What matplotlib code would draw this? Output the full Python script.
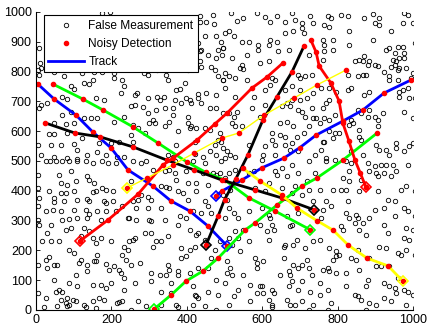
import matplotlib
matplotlib.use('Agg')
import matplotlib.pyplot as plt
from matplotlib.lines import Line2D

plt.rcParams['font.family'] = ['Liberation Sans', 'DejaVu Sans']

false_pts = [
    (176, 996), (197, 1000), (8, 879), (11, 828), (4, 806), (14, 812), (8, 789), (48, 800), (75, 784),
    (123, 795), (154, 800), (152, 772), (176, 800), (207, 778), (229, 772), (207, 795), (128, 761),
    (141, 758), (92, 750), (234, 753), (225, 728), (70, 716), (83, 709), (101, 742), (13, 688), (30, 694),
    (8, 677), (159, 711), (181, 705), (145, 644), (163, 644), (70, 655), (92, 666), (207, 632), (234, 649),
    (48, 627), (79, 624), (101, 627), (128, 644), (35, 590), (48, 590), (83, 593), (123, 577), (167, 560),
    (198, 560), (220, 565), (4, 554), (39, 554), (101, 556), (110, 537), (136, 521), (163, 530), (216, 515),
    (234, 512), (14, 521), (48, 515), (83, 509), (110, 507), (66, 554), (185, 521),
    (434, 985), (469, 991), (434, 968), (452, 968), (472, 959), (447, 918), (478, 918), (492, 901),
    (430, 896), (437, 873), (434, 868), (456, 856), (478, 845), (483, 873), (496, 879), (494, 856),
    (434, 836), (465, 817), (474, 806), (437, 817), (286, 795), (297, 789), (322, 806), (346, 789),
    (350, 772), (403, 806), (483, 784), (496, 772), (394, 761), (372, 739), (381, 742), (262, 722),
    (269, 728), (297, 711), (322, 716), (339, 716), (328, 705), (368, 705), (399, 711), (408, 705),
    (430, 724), (452, 728), (478, 722), (431, 713), (262, 688), (253, 686), (284, 680), (319, 672),
    (341, 677), (363, 677), (385, 694), (412, 694), (438, 694), (461, 677), (478, 677), (297, 660),
    (363, 655), (403, 649), (310, 638), (301, 627), (315, 627), (354, 632), (403, 627), (412, 616),
    (425, 610), (408, 610), (257, 621), (271, 612), (341, 619), (447, 610), (251, 588), (288, 593),
    (377, 599), (461, 605), (487, 593), (483, 571), (372, 554), (421, 565), (474, 554), (492, 565),
    (350, 521), (363, 515), (421, 523), (443, 515), (461, 534), (478, 521), (257, 565),
    (518, 996), (533, 970), (550, 979), (586, 996), (608, 982), (621, 968), (639, 985), (661, 968),
    (679, 996), (687, 974), (705, 963), (727, 988), (736, 963), (502, 929), (512, 937), (524, 918),
    (546, 901), (564, 898), (590, 890), (621, 907), (639, 901), (661, 929), (683, 935), (705, 946),
    (710, 929), (617, 890), (588, 873), (497, 879), (643, 868), (670, 873), (723, 856), (520, 847),
    (559, 856), (617, 836), (546, 823), (542, 812), (550, 809), (595, 828), (502, 795), (511, 784),
    (528, 778), (559, 772), (626, 778), (634, 772), (696, 789), (701, 778), (714, 784), (732, 789),
    (497, 772), (621, 756), (679, 750), (661, 739), (502, 744), (528, 716), (577, 716), (608, 739),
    (701, 739), (718, 711), (736, 728), (701, 705), (679, 705), (665, 694), (652, 683), (674, 683),
    (533, 666), (573, 677), (608, 688), (696, 672), (705, 666), (732, 677), (497, 660), (511, 660),
    (524, 649), (520, 627), (528, 616), (546, 616), (595, 649), (648, 627), (665, 632), (683, 616),
    (714, 649), (736, 644), (723, 616), (626, 593), (648, 588), (661, 582), (692, 582), (710, 593),
    (497, 543), (506, 532), (564, 554), (608, 549), (626, 571), (634, 554), (661, 554), (679, 560),
    (674, 537), (696, 532), (515, 521), (528, 515), (603, 521), (634, 521), (740, 521), (502, 509),
    (774, 988), (783, 979), (809, 991), (827, 988), (871, 979), (893, 993), (898, 963), (911, 979),
    (977, 996), (986, 991), (973, 963), (999, 963), (765, 957), (778, 948), (831, 935), (911, 957),
    (942, 935), (761, 907), (787, 907), (831, 890), (893, 907), (1004, 896), (765, 890), (787, 873),
    (765, 868), (929, 873), (937, 879), (960, 884), (973, 884), (951, 862), (977, 862), (761, 840),
    (858, 840), (845, 836), (867, 834), (871, 851), (884, 834), (946, 840), (955, 834), (964, 845),
    (977, 845), (951, 823), (964, 812), (960, 806), (942, 817), (982, 812), (898, 823), (907, 820),
    (880, 823), (924, 800), (827, 789), (853, 784), (867, 789), (876, 789), (937, 784), (999, 795),
    (995, 778), (937, 772), (960, 772), (756, 744), (778, 744), (796, 733), (827, 739), (836, 744),
    (884, 733), (871, 722), (964, 733), (973, 739), (986, 744), (964, 716), (990, 711), (1004, 713),
    (778, 705), (770, 694), (761, 677), (792, 655), (765, 644), (778, 638), (853, 672), (862, 660),
    (884, 672), (920, 660), (977, 666), (999, 644), (743, 644), (752, 627), (880, 649), (898, 649),
    (907, 638), (907, 616), (858, 605), (836, 638), (831, 621), (840, 627), (778, 599), (792, 593),
    (805, 593), (787, 577), (761, 565), (765, 565), (858, 582), (862, 571), (902, 554), (911, 537),
    (929, 537), (955, 560), (955, 543), (977, 532), (990, 549), (999, 560), (756, 537), (770, 509),
    (867, 521), (937, 521), (836, 532),
    (26, 501), (37, 501), (52, 499), (70, 499), (88, 499), (110, 499), (132, 501), (150, 493), (176, 499),
    (190, 493), (212, 493), (4, 454), (61, 454), (92, 465), (66, 426), (83, 420), (105, 432), (136, 448),
    (141, 437), (154, 426), (176, 409), (185, 404), (203, 398), (4, 409), (35, 400), (66, 393), (79, 393),
    (101, 398), (150, 395), (159, 398), (8, 376), (48, 376), (48, 362), (75, 365), (110, 370), (136, 373),
    (141, 365), (181, 365), (185, 359), (203, 365), (4, 348), (26, 331), (44, 337), (66, 331), (101, 337),
    (132, 337), (141, 322), (163, 331), (185, 331), (212, 331), (229, 348), (243, 309), (70, 303),
    (88, 306), (110, 309), (136, 309), (172, 303), (4, 303), (8, 286), (39, 286), (79, 269), (92, 275),
    (128, 275), (141, 264), (119, 247), (150, 241), (172, 241), (30, 258), (17, 230), (39, 230), (61, 230),
    (88, 202), (101, 191), (159, 225), (163, 185), (198, 230), (234, 213), (243, 202), (229, 185),
    (4, 152), (26, 169), (35, 177), (48, 152), (57, 152), (30, 141), (119, 169), (154, 163), (159, 163),
    (185, 154), (136, 152), (114, 157), (238, 169), (207, 146), (136, 130), (194, 135), (220, 135),
    (225, 124), (234, 107), (48, 102), (105, 118), (88, 90), (110, 79), (150, 85), (172, 85), (185, 74),
    (198, 90), (234, 68), (61, 68), (52, 62), (70, 62), (4, 57), (26, 40), (66, 34), (83, 40), (97, 34),
    (79, 23), (88, 18), (105, 29), (128, 18), (150, 29), (167, 40), (181, 34), (216, 23), (220, 27),
    (22, 9), (57, 12), (83, 12), (132, 9), (159, 7), (229, 29),
    (257, 499), (279, 493), (293, 499), (368, 501), (416, 499), (447, 493), (492, 501), (310, 471),
    (341, 465), (354, 471), (368, 460), (399, 465), (443, 460), (469, 460), (478, 454), (487, 460),
    (253, 432), (372, 437), (403, 426), (425, 426), (456, 420), (332, 415), (346, 412), (354, 409),
    (279, 387), (297, 378), (271, 370), (257, 365), (306, 370), (377, 398), (390, 392), (403, 370),
    (425, 398), (447, 365), (297, 342), (266, 342), (332, 342), (456, 348), (438, 325), (381, 314),
    (399, 309), (416, 331), (465, 325), (266, 303), (301, 303), (306, 297), (341, 303), (248, 309),
    (377, 286), (408, 269), (425, 253), (430, 258), (288, 258), (306, 258), (319, 230), (332, 230),
    (350, 247), (310, 213), (257, 236), (248, 230), (262, 241), (385, 208), (408, 202), (399, 180),
    (385, 174), (421, 213), (447, 236), (474, 202), (487, 230), (465, 174), (275, 157), (253, 152),
    (350, 152), (354, 135), (377, 130), (377, 118), (306, 124), (328, 118), (346, 118), (408, 124),
    (430, 141), (456, 141), (262, 90), (306, 96), (359, 90), (416, 79), (478, 102), (332, 62), (359, 57),
    (421, 51), (425, 46), (430, 40), (456, 62), (483, 51), (271, 29), (293, 12), (332, 18), (372, 18),
    (377, 9), (416, 18), (447, 12), (478, 1), (253, 1),
    (528, 471), (511, 460), (502, 443), (497, 387), (515, 404), (506, 370), (599, 504), (634, 465),
    (652, 476), (639, 454), (665, 448), (679, 488), (696, 460), (723, 499), (718, 432), (740, 460),
    (564, 460), (577, 465), (581, 409), (608, 398), (617, 426), (652, 409), (687, 415), (679, 392),
    (705, 387), (723, 404), (736, 365), (511, 342), (524, 325), (502, 309), (537, 309), (564, 331),
    (599, 342), (617, 320), (621, 309), (665, 314), (696, 325), (679, 286), (674, 281), (626, 286),
    (630, 269), (612, 264), (595, 286), (528, 264), (550, 269), (511, 241), (537, 241), (520, 219),
    (564, 230), (617, 236), (657, 213), (661, 219), (683, 219), (714, 208), (736, 230), (692, 236),
    (542, 197), (581, 174), (586, 157), (586, 141), (603, 163), (657, 174), (683, 152), (705, 152),
    (718, 169), (723, 141), (696, 141), (670, 130), (674, 118), (648, 118), (506, 163), (515, 141),
    (506, 124), (520, 118), (550, 118), (732, 118), (705, 96), (679, 96), (502, 90), (568, 85), (595, 79),
    (599, 79), (626, 68), (630, 57), (586, 57), (603, 57), (670, 79), (696, 68), (727, 62), (524, 46),
    (537, 68), (511, 18), (568, 29), (617, 34), (626, 18), (626, 9), (665, 34), (674, 18), (687, 18),
    (705, 29), (723, 1), (736, 18),
    (770, 501), (792, 504), (823, 499), (836, 493), (880, 493), (898, 482), (915, 488), (929, 488),
    (946, 488), (955, 467), (986, 488), (884, 465), (902, 460), (907, 448), (924, 460), (942, 448),
    (831, 465), (814, 443), (831, 432), (862, 437), (823, 404), (809, 404), (752, 404), (787, 404),
    (858, 398), (907, 398), (968, 404), (982, 415), (1004, 398), (933, 370), (951, 365), (827, 365),
    (770, 365), (783, 348), (977, 342), (986, 331), (898, 337), (924, 342), (823, 325), (849, 320),
    (831, 309), (853, 309), (884, 309), (761, 337), (756, 309), (951, 314), (1004, 314), (982, 275),
    (999, 269), (845, 292), (809, 281), (814, 269), (858, 269), (876, 253), (924, 286), (867, 292),
    (933, 258), (977, 241), (990, 236), (752, 236), (778, 208), (796, 197), (805, 185), (796, 180),
    (787, 169), (853, 202), (911, 213), (929, 208), (960, 191), (968, 185), (982, 202), (1004, 185),
    (836, 174), (849, 169), (884, 174), (902, 146), (915, 146), (937, 146), (761, 135), (774, 141),
    (778, 130), (796, 124), (823, 124), (858, 135), (880, 102), (960, 107), (924, 90), (937, 79),
    (951, 74), (876, 79), (752, 90), (774, 68), (752, 51), (823, 79), (845, 51), (853, 46), (862, 34),
    (884, 23), (902, 18), (924, 40), (942, 29), (977, 68), (986, 62), (999, 51), (783, 23), (774, 1),
    (876, 1), (982, 18), (955, 57),
]

# tracks, each listed from the end that carries the diamond marker
blue_1 = [(507, 215), (456, 282), (408, 332), (358, 366), (310, 416), (244, 470), (199, 544),
          (151, 597), (106, 654), (48, 708), (5, 758)]
blue_2 = [(477, 383), (493, 399), (546, 436), (599, 477), (658, 510), (700, 545), (743, 587),
          (814, 634), (867, 671), (923, 728), (995, 772)]
green_1 = [(728, 269), (634, 332), (565, 376), (501, 436), (450, 462), (400, 497), (324, 560),
           (258, 614), (178, 671), (124, 708), (45, 758)]
green_2 = [(313, 3), (358, 50), (398, 97), (443, 131), (483, 174), (554, 268), (581, 292),
           (639, 352), (706, 416), (745, 443), (814, 503), (905, 594)]
black_1 = [(738, 336), (652, 376), (581, 403), (493, 436), (420, 470), (347, 503), (258, 547),
           (170, 581), (103, 594), (24, 628)]
black_2 = [(451, 218), (483, 315), (500, 370), (530, 440), (562, 520), (602, 638), (639, 715),
           (679, 799), (711, 886)]
red_1 = [(117, 232), (191, 302), (271, 389), (337, 487), (364, 510), (427, 570), (475, 625),
         (507, 661), (573, 745), (613, 782), (655, 829)]
red_2 = [(875, 413), (860, 460), (846, 503), (830, 567), (814, 627), (804, 701), (782, 762),
         (751, 819), (743, 865), (729, 906)]
yellow_1 = [(241, 409), (294, 443), (363, 487), (420, 527), (493, 577), (538, 594), (605, 654),
            (684, 711), (745, 755), (822, 805)]
yellow_2 = [(973, 97), (934, 148), (878, 174), (828, 218), (788, 268), (745, 300), (692, 342),
            (652, 386), (594, 433), (549, 475)]

tracks = [blue_1, blue_2, green_1, green_2, black_1, black_2, red_1, red_2, yellow_1, yellow_2]
track_colors = ['#0000ff', '#0000ff', '#00ff00', '#00ff00', 'k', 'k', '#ff0000', '#ff0000',
                '#ffff00', '#ffff00']
track_widths = [2, 2, 2, 2, 2, 2, 2, 2, 1, 2]

fig = plt.figure(figsize=(4.3, 3.26), dpi=100)
ax = fig.add_axes([36 / 430, 16 / 326, 377 / 430, 298 / 326])

fx = [p[0] for p in false_pts]
fy = [p[1] for p in false_pts]
ax.plot(fx, fy, 'o', mfc='none', mec='k', ms=3.2, mew=0.6, ls='none')

for trk, col, lw in zip(tracks, track_colors, track_widths):
    tx = [p[0] for p in trk]
    ty = [p[1] for p in trk]
    ax.plot(tx, ty, '-', color=col, lw=lw)
    ax.plot(tx, ty, 'o', color='r', ms=3, ls='none')
    ax.plot(tx[0], ty[0], 'D', mfc='none', mec=col, ms=5.5, mew=1.2)

ax.set_xlim(0, 1000)
ax.set_ylim(0, 1000)
ax.set_xticks(range(0, 1001, 200))
ax.set_yticks(range(0, 1001, 100))
ax.tick_params(direction='in', length=3, labelsize=9, width=0.6, pad=3)
ax.spines['top'].set_visible(False)
ax.spines['right'].set_visible(False)

handles = [
    Line2D([], [], marker='o', mfc='none', mec='k', ms=3.2, mew=0.6, ls='none'),
    Line2D([], [], marker='o', color='r', ms=3, ls='none'),
    Line2D([], [], color='#0000ff', lw=2),
]
leg = ax.legend(handles, ['False Measurement', 'Noisy Detection', 'Track'],
                loc='upper left', bbox_to_anchor=(0.02, 0.99), fontsize=8.6,
                fancybox=False, edgecolor='k', framealpha=1, handlelength=3,
                borderpad=0.4, labelspacing=0.5, handletextpad=0.35, borderaxespad=0)
leg.get_frame().set_linewidth(0.8)

fig.savefig('out.png', dpi=100)
